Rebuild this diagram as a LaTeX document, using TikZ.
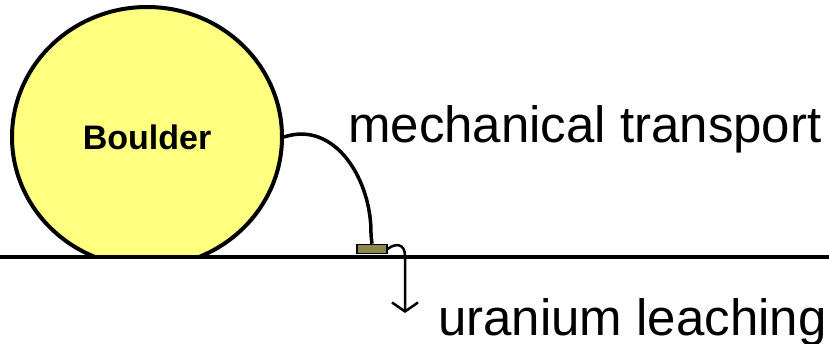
\documentclass[tikz,border=0pt]{standalone}
\usepackage{fontspec}
\setmainfont{Liberation Sans}
\usetikzlibrary{shapes.geometric,shapes.misc,arrows.meta}

\definecolor{boulderfill}{RGB}{255,255,128}
\definecolor{grainfill}{RGB}{140,136,76}

\tikzset{
    boulder/.style={ellipse, draw, line width=4pt, fill=boulderfill,
        minimum width=270pt, minimum height=260pt, inner sep=0pt,
        font=\fontsize{34}{40}\selectfont\bfseries},
    grain/.style={chamfered rectangle, chamfered rectangle xsep=5pt, draw, line width=1.5pt,
        fill=grainfill, minimum width=30pt, minimum height=9pt, inner sep=0pt},
    biglabel/.style={anchor=base west, inner sep=0pt,
        font=\fontsize{51}{60}\selectfont},
}

\begin{document}
\begin{tikzpicture}[x=1pt,y=-1pt]

    % 画像の大きさ
    \useasboundingbox (0,0) rectangle (829,344);

    % 岩（地面より下は切る）
    \begin{scope}
        \clip (0,0) rectangle (829,257);
        \node[boulder] (rock) at (147,137) {Boulder};
    \end{scope}

    % 地面
    \coordinate (groundL) at (0,257);
    \coordinate (groundR) at (829,257);
    \draw [line width=4pt] (groundL) -- (groundR);

    % 粒子
    \node[grain] (particle) at (372,249) {};

    % 機械的な運搬
    \draw [line width=3.5pt] (rock.east) .. controls (335,120) and (372,180) .. (371,235)
        -- (particle.north);

    % 浸出
    \coordinate (leachEnd) at (405,313);
    \draw [line width=2.5pt, -{Straight Barb[length=9pt,width=26pt]}]
        (particle.east) .. controls (395,243) and (405,243) .. (405,256) -- (leachEnd);

    % ラベル
    \node[biglabel] (transport) at (348,143) {mechanical transport};
    \node[biglabel] (leaching) at (438,335) {uranium leaching};
    %
\end{tikzpicture}
\end{document}
